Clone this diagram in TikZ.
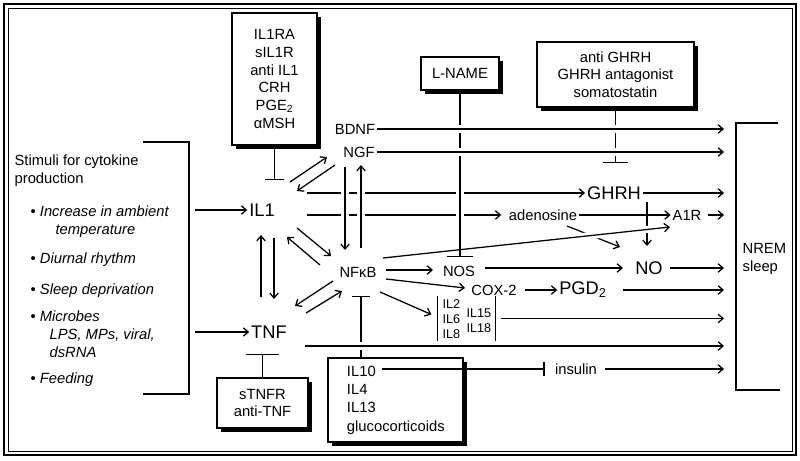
\documentclass[tikz,border=0pt]{standalone}
\usepackage{fontspec}
\setmainfont{Liberation Sans}
\usetikzlibrary{arrows.meta,shadows}

\begin{document}
\begin{tikzpicture}[x=0.025cm,y=-0.025cm,line width=0.9pt,>={Straight Barb[length=3.5pt,width=6pt]}]
    \tikzstyle{big}=[font=\fontsize{13}{15.6}\selectfont,inner sep=1pt]
    \tikzstyle{mid}=[font=\fontsize{10.5}{12.6}\selectfont,inner sep=1pt]
    \tikzstyle{small}=[font=\fontsize{9}{10.8}\selectfont,inner sep=0pt,align=left,anchor=west]
    \tikzstyle{stim}=[font=\fontsize{10.5}{12.6}\selectfont,inner sep=0pt,anchor=base west]
    \tikzstyle{shadow box}=[draw,fill=white,line width=1pt,inner sep=0pt,align=center,
        font=\fontsize{10.5}{12.6}\selectfont,
        drop shadow={shadow xshift=0.09cm,shadow yshift=-0.09cm,fill=black,opacity=1}]
    \tikzstyle{halo}=[preaction={draw,white,line width=5pt,-}]

    \useasboundingbox (0,0) rectangle (800,460);
    \draw[line width=1.3pt] (4,4) rectangle (796,455);
    \draw[line width=0.6pt] (8,8) rectangle (792,451);

    % stimuli
    \draw (143,142) -| (189,394) -- (143,394);
    \node(s1)[stim] at (14,165) {Stimuli for cytokine};
    \node(s2)[stim] at (14,183) {production};
    \node(s3)[stim] at (30,216) {• \textit{Increase in ambient}};
    \node(s4)[stim] at (55,234) {\textit{temperature}};
    \node(s5)[stim] at (30,263) {• \textit{Diurnal rhythm}};
    \node(s6)[stim] at (30,294) {• \textit{Sleep deprivation}};
    \node(s7)[stim] at (30,321) {• \textit{Microbes}};
    \node(s8)[stim] at (49,339) {\textit{LPS, MPs, viral,}};
    \node(s9)[stim] at (49,357) {\textit{dsRNA}};
    \node(s10)[stim] at (30,383) {• \textit{Feeding}};
    \coordinate(stimout1) at (195,210);
    \coordinate(stimout2) at (195,332);

    \node(il1)[big] at (262,210) {IL1};
    \node(tnf)[big] at (269,332) {TNF};
    \node(nfkb)[mid] at (358,272) {NFκB};
    \node(bdnf)[mid] at (355,129) {BDNF};
    \node(ngf)[mid] at (359,152) {NGF};
    \node(ghrh)[big] at (614,193) {GHRH};
    \node(aden)[mid] at (543,215) {adenosine};
    \node(a1r)[mid] at (687,215) {A1R};
    \node(nos)[mid] at (459,271) {NOS};
    \node(no)[big] at (649,268) {NO};
    \node(cox)[mid] at (494,290) {COX-2};
    \node(pgd)[big] at (583,290) {PGD\textsubscript{2}};
    \node(ins)[mid] at (576,369) {insulin};
    \node(ilgrp)[minimum width=1.425cm,minimum height=1.075cm,inner sep=0pt] at (466.5,318.5) {};
    \node(il268)[small] at (442,319) {IL2\\IL6\\IL8};
    \node(il1518)[small] at (466,320.5) {IL15\\IL18};

    \node(ilbox)[shadow box,minimum width=2.125cm,minimum height=3.3cm] at (274.5,79) {IL1RA\\sIL1R\\anti IL1\\CRH\\PGE\textsubscript{2}\\αMSH};
    \node(lname)[shadow box,minimum width=1.95cm,minimum height=0.825cm] at (460,73.5) {L-NAME};
    \node(ghbox)[shadow box,minimum width=3.925cm,minimum height=1.625cm] at (615.5,74.5) {anti GHRH\\GHRH antagonist\\somatostatin};
    \node(tnfbox)[shadow box,minimum width=2.275cm,minimum height=1.25cm] at (262.5,403) {sTNFR\\anti-TNF};
    \node(il10box)[shadow box,align=left,text width=2.425cm,inner xsep=0.475cm,minimum height=2.1cm,
        font=\fontsize{10.5}{13}\selectfont] at (395.5,400) {IL10\\IL4\\IL13\\glucocorticoids};

    \draw (778,123) -| (736,390) -- (780,390);
    \node(nrem)[mid,align=left,anchor=north west,inner sep=0pt] at (742,243) {NREM\\sleep};
    \coordinate(sleepin) at (724,0);

    \coordinate(il1bar) at (274.5,180);
    \coordinate(nosbar) at (460,257);
    \coordinate(ghbar) at (615.5,163);
    \coordinate(tnfbar) at (262.5,354);
    \coordinate(nfkbbar) at (361,296);
    \coordinate(split) at (647,215);
    \coordinate(il10out) at (382,369);
    \coordinate(tnfout) at ([shift={(36,14)}]tnf.center);

    \draw[-{Bar[width=14pt]}] (ilbox) -- (il1bar);
    \draw[-{Bar[width=18pt]}] (lname) -- (nosbar);
    \draw[-{Bar[width=18pt]}] (ghbox) -- (ghbar);
    \draw[-{Bar[width=23pt]}] (tnfbox) -- (tnfbar);
    \draw[-{Bar[width=13pt]}] (il10box.north -| nfkbbar) -- (nfkbbar);

    \draw[->] (stimout1) -- (il1);
    \draw[->] (stimout2) -- (tnf);

    \draw[->,halo] (bdnf) -- (bdnf -| sleepin);
    \draw[->,halo] (ngf) -- (ngf -| sleepin);
    \draw[->] ([shift={(45,-17)}]il1.center) -- (ghrh.west);
    \draw[->,shorten >=4pt] ([shift={(45,5)}]il1.center) -- (aden.west);
    \draw[->] (ghrh) -- (ghrh -| sleepin);
    \draw[halo] ([shift={(0,-82)}]nosbar) -- ([shift={(0,-22)}]nosbar);

    \draw[->,halo] ([shift={(-14,15)}]ngf.center) -- ([shift={(-13,-22)}]nfkb.center);
    \draw[->,halo] ([shift={(3,-24)}]nfkb.center) -- ([shift={(2,13)}]ngf.center);
    \draw[->] ([shift={(28,-28)}]il1.center) -- ([shift={(-32,5)}]ngf.center);
    \draw[->] ([shift={(-24,13)}]ngf.center) -- ([shift={(35,-19)}]il1.center);
    \draw[->] ([shift={(35,18)}]il1.center) -- ([shift={(-27,-16)}]nfkb.center);
    \draw[->] ([shift={(-38,-7)}]nfkb.center) -- ([shift={(25,27)}]il1.center);
    \draw[->] ([shift={(-8,-35)}]tnf.center) -- ([shift={(-1,25)}]il1.center);
    \draw[->] ([shift={(12,28)}]il1.center) -- ([shift={(5,-33)}]tnf.center);
    \draw[->] ([shift={(-25,9)}]nfkb.center) -- ([shift={(26,-26)}]tnf.center);
    \draw[->] ([shift={(37,-19)}]tnf.center) -- ([shift={(-16,19)}]nfkb.center);

    \draw[->] ([shift={(28,-2)}]nfkb.center) -- ([shift={(-26,-1)}]nos.center);
    \draw[->] ([shift={(26,-3)}]nos.center) -- ([shift={(-26,0)}]no.center);
    \draw[->,shorten <=4pt] (no) -- (no -| sleepin);
    \draw[->] ([shift={(28,7)}]nfkb.center) -- ([shift={(-29,-2)}]cox.center);
    \draw[->] ([shift={(31,0)}]cox.center) -- (pgd.west);
    \draw[->,shorten <=10pt] (pgd) -- (pgd -| sleepin);
    \draw (ilgrp.north west) -- (ilgrp.south west);
    \draw (ilgrp.north east) -- (ilgrp.south east);
    \draw[->] ([shift={(22,20)}]nfkb.center) -- ([shift={(-6,-4)}]ilgrp.west);
    \draw[->,shorten <=4pt] (ilgrp) -- (ilgrp -| sleepin);
    \draw[->,halo] (tnfout) -- (tnfout -| sleepin);
    \draw[-{Bar[width=10pt]},shorten >=6pt] (il10out) -- (ins);
    \draw[->,shorten <=4pt] (ins) -- (ins -| sleepin);

    \draw (aden) -- (split);
    \draw[->] (split) -- (a1r);
    \draw[->] ([shift={(0,-13)}]split) -- ([shift={(0,31)}]split);
    \draw[->] ([shift={(24,11)}]aden.center) -- ([shift={(-29,-21)}]no.center);
    \draw[->,shorten <=3pt] (a1r) -- (a1r -| sleepin);
    \draw[->,halo] ([shift={(25,-14)}]nfkb.center) -- ([shift={(-17,12)}]a1r.center);
    \draw[-{Bar[width=18pt]}] ([shift={(0,-22)}]nosbar) -- (nosbar);
\end{tikzpicture}
\end{document}
